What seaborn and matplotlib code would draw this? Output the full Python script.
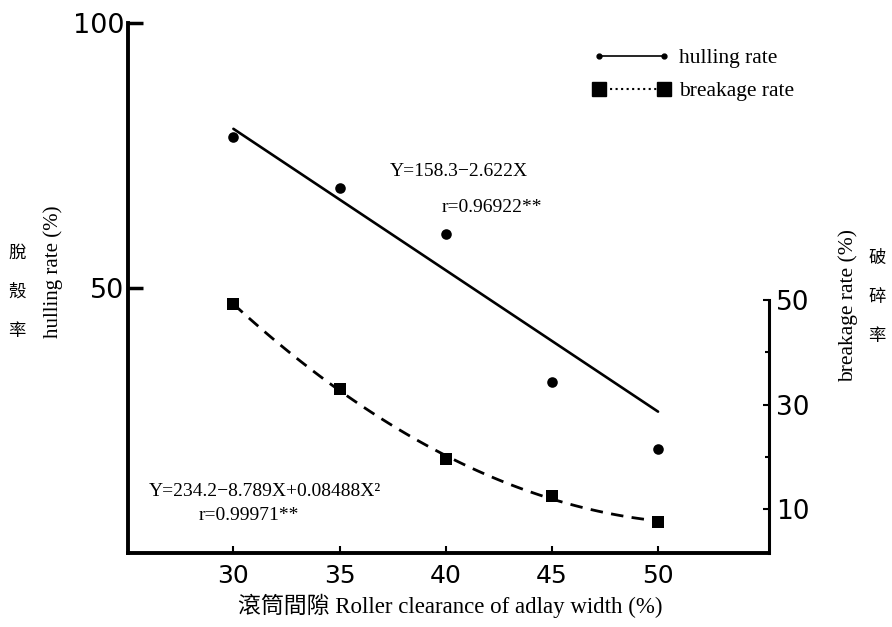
import matplotlib
matplotlib.use('Agg')
import matplotlib.pyplot as plt
import seaborn as sns
from matplotlib.lines import Line2D
from matplotlib.legend_handler import HandlerLine2D

# values
clearance = [30, 35, 40, 45, 50]
hulling = [78.5, 68.9, 60.2, 32.3, 19.7]
breakage = [49.2, 33.0, 19.6, 12.6, 7.6]
hull_fit_x = [30, 50]
hull_fit_y = [80.0, 26.7]
x_ticks = [30, 35, 40, 45, 50]
left_ticks = [50, 100]
right_major = [10, 30, 50]
right_minor = [20, 40]

sns.set_style('ticks', {'axes.edgecolor': 'black', 'xtick.color': 'black',
                        'ytick.color': 'black', 'text.color': 'black'})
plt.rcParams['font.family'] = ['Liberation Serif', 'Noto Sans CJK TC']

W, H = 892, 627
fig = plt.figure(figsize=(W / 100, H / 100), dpi=100)
ax = fig.add_axes([128.3 / W, 1 - 553.3 / H, (769.3 - 128.3) / W, (553.3 - 22.7) / H])
ax2 = ax.twinx()

sns.lineplot(x=hull_fit_x, y=hull_fit_y, ax=ax, color='black', lw=1.9)
sns.scatterplot(x=clearance, y=hulling, ax=ax, color='black', marker='o',
                s=58, linewidth=0, zorder=3)
sns.regplot(x=clearance, y=breakage, order=2, ci=None, scatter=False, ax=ax2,
            color='black', truncate=True, line_kws=dict(lw=2, dashes=(4.5, 3)))
sns.scatterplot(x=clearance, y=breakage, ax=ax2, color='black', marker='s',
                s=66, linewidth=0, zorder=3)

ax.set_xlim(25.05, 55.24)
ax.set_ylim(0, 100)
ax2.set_ylim(1.6, 103)
ax.set_xlabel('')
ax.set_ylabel('')
ax2.set_ylabel('')

for s in ['top', 'right']:
    ax.spines[s].set_visible(False)
for s in ['top', 'left', 'bottom']:
    ax2.spines[s].set_visible(False)
ax.spines['left'].set_linewidth(2.8)
ax.spines['bottom'].set_linewidth(2.8)
ax.spines['left'].set_capstyle('projecting')
ax.spines['bottom'].set_capstyle('projecting')
ax2.spines['right'].set_linewidth(2.2)
ax2.spines['right'].set_bounds(1.6, 50)

sans = 'DejaVu Sans'
ax.set_xticks(x_ticks, labels=[str(v) for v in x_ticks], fontfamily=sans)
ax.tick_params(axis='x', direction='in', length=5, width=1.5, labelsize=18, pad=8,
               labelcolor='black')
ax.set_yticks(left_ticks, labels=[str(v) for v in left_ticks], fontfamily=sans)
ax.tick_params(axis='y', direction='in', length=11, width=2.5, labelsize=19.5, pad=3,
               labelcolor='black')
ax2.set_yticks(right_major, labels=[str(v) for v in right_major], fontfamily=sans)
ax2.set_yticks(right_minor, minor=True)
ax2.tick_params(axis='y', which='major', direction='in', length=4, width=1.5,
                labelsize=19, pad=5, labelcolor='black')
ax2.tick_params(axis='y', which='minor', direction='in', length=3, width=1.5)

def fx(px):
    return px / W

def fy(py):
    return 1 - py / H

fs_eq = 14
fig.text(fx(390), fy(171), 'Y=158.3−2.622X', fontsize=fs_eq, ha='left', va='center')
fig.text(fx(442), fy(208), 'r=0.96922**', fontsize=fs_eq, ha='left', va='center')
fig.text(fx(149), fy(491), 'Y=234.2−8.789X+0.08488X²', fontsize=fs_eq, ha='left', va='center')
fig.text(fx(199), fy(515), 'r=0.99971**', fontsize=fs_eq, ha='left', va='center')

fig.text(fx(53), fy(272), 'hulling rate (%)', rotation=90, fontsize=15,
         ha='center', va='center')
fig.text(fx(848), fy(305), 'breakage rate (%)', rotation=90, fontsize=15.5,
         ha='center', va='center')
fig.text(fx(17), fy(292), '脫\n殼\n率', fontsize=12.5, linespacing=2.5,
         ha='center', va='center', family='Noto Sans CJK TC')
fig.text(fx(877), fy(297), '破\n碎\n率', fontsize=12.5, linespacing=2.5,
         ha='center', va='center', family='Noto Sans CJK TC')
fig.text(fx(450), fy(606), '滾筒間隙 Roller clearance of adlay width (%)', fontsize=16.5,
         ha='center', va='center')

h1 = Line2D([], [], color='black', lw=1.2, marker='o', ms=3.5)
h2 = Line2D([], [], color='black', lw=1.5, ls=':', marker='s', ms=9.5)
fig.legend([h1, h2], ['hulling rate', 'breakage rate'], loc='upper left',
           bbox_to_anchor=(fx(598.5), fy(48)), frameon=False, numpoints=2,
           handlelength=3.05, handletextpad=0.7, labelspacing=0.6, borderpad=0,
           borderaxespad=0, fontsize=15.5,
           handler_map={Line2D: HandlerLine2D(marker_pad=0, numpoints=2)})

fig.savefig('out.png', dpi=100)
